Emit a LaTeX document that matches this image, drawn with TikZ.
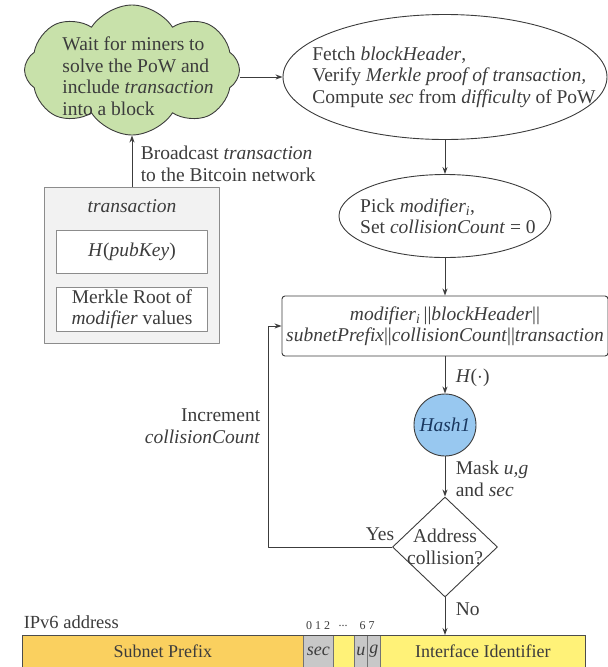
\documentclass[tikz,border=0pt]{standalone}
\usepackage{fontspec}
\setmainfont{Liberation Serif}
\usetikzlibrary{shapes.geometric,shapes.symbols,arrows.meta}
\definecolor{cloudgreen}{RGB}{200,225,170}
\definecolor{hashblue}{RGB}{152,200,240}
\definecolor{hashtext}{RGB}{25,55,95}
\definecolor{prefixorange}{RGB}{250,208,95}
\definecolor{iidyellow}{RGB}{255,242,120}
\definecolor{bitgray}{RGB}{200,200,200}
\definecolor{boxgray}{RGB}{242,242,242}
\definecolor{ink}{RGB}{60,60,60}
\begin{document}
\begin{tikzpicture}[x=1pt,y=-1pt,line join=round,>={Stealth[length=7pt,width=5pt]},line width=0.9pt]
				\tikzset{every node/.style={text=ink,font=\fontsize{19.5}{21.5}\selectfont},
				flow/.style={draw=ink,->},
				lbl/.style={align=left,anchor=west},
				bitcell/.style={draw=black!55,line width=0.6pt,minimum height=32,inner sep=0,anchor=north west,font=\fontsize{18}{20}\selectfont},
				bitnum/.style={font=\fontsize{12}{14}\selectfont,inner sep=0}}
				\useasboundingbox (0,0) rectangle (608,667);
				% top row
				\node[cloud,cloud puffs=8,cloud puff arc=115,cloud ignores aspect,draw=ink,fill=cloudgreen,minimum width=215,minimum height=130,inner sep=0,
				label={[name=waittxt,align=left,xshift=6pt,yshift=-6pt]center:Wait for miners to\\solve the PoW and\\include \textit{transaction}\\into a block}] (wait) at (132,70) {};
				\node[ellipse,draw=ink,minimum width=324,minimum height=125,inner sep=0,
				label={[name=fetchtxt,align=left,xshift=9pt]center:Fetch \textit{blockHeader},\\Verify \textit{Merkle proof of transaction,}\\Compute \textit{sec} from \textit{difficulty} of PoW}] (fetch) at (445,77) {};
				% transaction box
				\node[draw=black!45,fill=boxgray,minimum width=175,minimum height=156] (txbox) at (132,265) {};
				\node (txtitle) at (132,206) {\textit{transaction}};
				\node[draw=black!45,fill=white,minimum width=151,minimum height=43,inner sep=0] (hpk) at (132,251.5) {\textit{H}(\textit{pubKey})};
				\node[draw=black!45,fill=white,minimum width=151,minimum height=44,inner sep=0,align=center] (mroot) at (132,309) {Merkle Root of\\\textit{modifier} values};
				% right column
				\node[ellipse,draw=ink,minimum width=212,minimum height=83,inner sep=0,
				label={[name=picktxt,align=left,xshift=3pt]center:Pick \textit{modifier}\textsubscript{\textit{i}},\\Set \textit{collisionCount} = 0}] (pick) at (445,216) {};
				\node[draw=ink,rounded corners=3,minimum width=326,minimum height=60,inner sep=0,align=center] (conc) at (445,326)
				{\textit{modifier}\textsubscript{\textit{i}}\,||\textit{blockHeader}||\\\textit{subnetPrefix}||\textit{collisionCount}||\textit{transaction}};
				\node[circle,draw=ink,fill=hashblue,minimum size=62,inner sep=0,text=hashtext] (hash) at (445,425) {\textit{Hash1}};
				\node[diamond,draw=ink,minimum width=105,minimum height=100,inner sep=0,
				label={[name=colltxt,align=center]center:Address\\collision?}] (coll) at (445,547) {};
				% IPv6 address
				\node[anchor=west,font=\fontsize{18.5}{20}\selectfont] (ipv6) at (20,622) {IPv6 address};
				\node[bitcell,fill=prefixorange,minimum width=281] (prefix) at (22,635) {Subnet Prefix};
				\node[bitcell,fill=bitgray,minimum width=30] (sec) at (303,635) {\textit{sec}};
				\node[bitcell,fill=iidyellow,minimum width=21] (gap) at (333,635) {};
				\node[bitcell,fill=bitgray,minimum width=13] (ubit) at (354,635) {\textit{u}};
				\node[bitcell,fill=bitgray,minimum width=13] (gbit) at (367,635) {\textit{g}};
				\node[bitcell,fill=iidyellow,minimum width=205] (iid) at (380,635) {Interface Identifier};
				\draw[black!70,line width=0.8pt] (prefix.north west) rectangle (iid.south east);
				\node[bitnum] (b012) at (318,626) {0 1 2};
				\node[bitnum] (bdots) at (343,626) {...};
				\node[bitnum] (b67) at (367,626) {6 7};
				% connectors
				\draw[flow] (wait.east |- fetch.west) -- (fetch.west);
				\draw[flow] (txbox.north) -- (wait.south);
				\node[lbl] (bcast) at (137,164) {Broadcast \textit{transaction}\\to the Bitcoin network};
				\draw[flow] (fetch) -- (pick);
				\draw[flow] (pick) -- (conc);
				\draw[flow] (conc) -- (hash);
				\node[lbl] (hfun) at (452,378) {\textit{H}($\cdot$)};
				\draw[flow] (hash) -- (coll);
				\node[lbl] (mask) at (452,479) {Mask \textit{u,g}\\and \textit{sec}};
				\draw[flow] (coll.south) -- (coll.south |- iid.north);
				\node[lbl] (no) at (452,609) {No};
				\coordinate (loopc) at (268,547);
				\draw[flow] (coll.west) -- (loopc) |- (conc.west);
				\node (yes) at (380,534) {Yes};
				\node[align=right,anchor=east] (incr) at (264,426) {Increment\\\textit{collisionCount}};
\end{tikzpicture}
\end{document}
